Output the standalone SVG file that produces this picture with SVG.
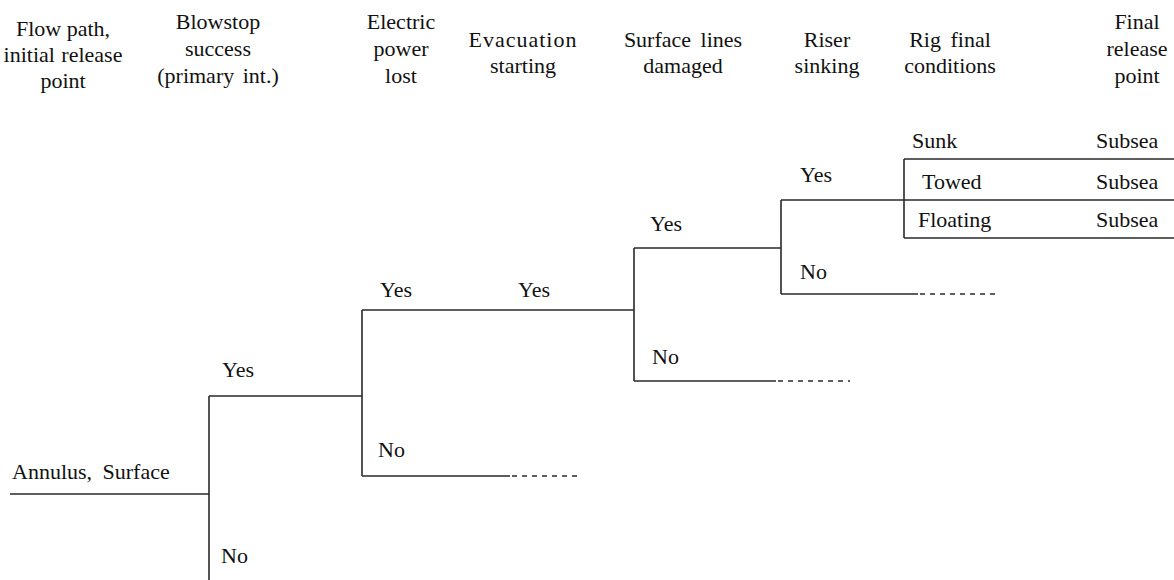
<svg xmlns="http://www.w3.org/2000/svg" width="1174" height="580" viewBox="0 0 1174 580" font-family="'Liberation Serif','Times New Roman',serif">
<style>
text{font-family:"Liberation Serif","Times New Roman",serif;font-size:22px;fill:#111}
.h{text-anchor:middle}
.ln{stroke:#2a2a2a;stroke-width:1.6;fill:none}
.da{stroke:#2a2a2a;stroke-width:1.6;fill:none;stroke-dasharray:5 5}
</style>
<rect width="1174" height="580" fill="#fff"/>
<g id="headers">
<text class="h" x="63" y="36">Flow path,</text>
<text class="h" x="63" y="62" word-spacing="1">initial release</text>
<text class="h" x="63" y="88">point</text>
<text class="h" x="218" y="29">Blowstop</text>
<text class="h" x="218" y="56">success</text>
<text class="h" x="218" y="83" word-spacing="3">(primary int.)</text>
<text class="h" x="401" y="29">Electric</text>
<text class="h" x="401" y="56">power</text>
<text class="h" x="401" y="83">lost</text>
<text class="h" x="523" y="47" letter-spacing="1">Evacuation</text>
<text class="h" x="523" y="73">starting</text>
<text class="h" x="683" y="47" word-spacing="4">Surface lines</text>
<text class="h" x="683" y="73">damaged</text>
<text class="h" x="827" y="47">Riser</text>
<text class="h" x="827" y="73">sinking</text>
<text class="h" x="950" y="47" word-spacing="4">Rig final</text>
<text class="h" x="950" y="73">conditions</text>
<text class="h" x="1137" y="29">Final</text>
<text class="h" x="1137" y="56">release</text>
<text class="h" x="1137" y="83">point</text>
</g>
<g id="connectors">
<path class="ln" d="M10 494H209M209 396V580M209 396H362M362 310V476M362 310H517M517 310H634M362 476H510M634 248V381M634 248H781M634 381H776M781 200V294M781 200H904M904 200H1174M781 294H918M904 159V238M904 159H1174M904 238H1174"/>
<path class="da" d="M512 476H580M778 381H850M920 294H996"/>
</g>
<g id="root"><text x="12" y="479" word-spacing="5">Annulus, Surface</text></g>
<g id="blowstop-yes"><text x="222" y="377">Yes</text></g>
<g id="blowstop-no"><text x="221" y="563">No</text></g>
<g id="power-yes"><text x="380" y="297">Yes</text></g>
<g id="power-no"><text x="378" y="457">No</text></g>
<g id="evac-yes"><text x="518" y="297">Yes</text></g>
<g id="surface-yes"><text x="650" y="231">Yes</text></g>
<g id="surface-no"><text x="652" y="364">No</text></g>
<g id="riser-yes"><text x="800" y="182">Yes</text></g>
<g id="riser-no"><text x="800" y="279">No</text></g>
<g id="sunk"><text x="912" y="148">Sunk</text><text x="1096" y="148">Subsea</text></g>
<g id="towed"><text x="922" y="189">Towed</text><text x="1096" y="189">Subsea</text></g>
<g id="floating"><text x="918" y="227">Floating</text><text x="1096" y="227">Subsea</text></g>
</svg>
